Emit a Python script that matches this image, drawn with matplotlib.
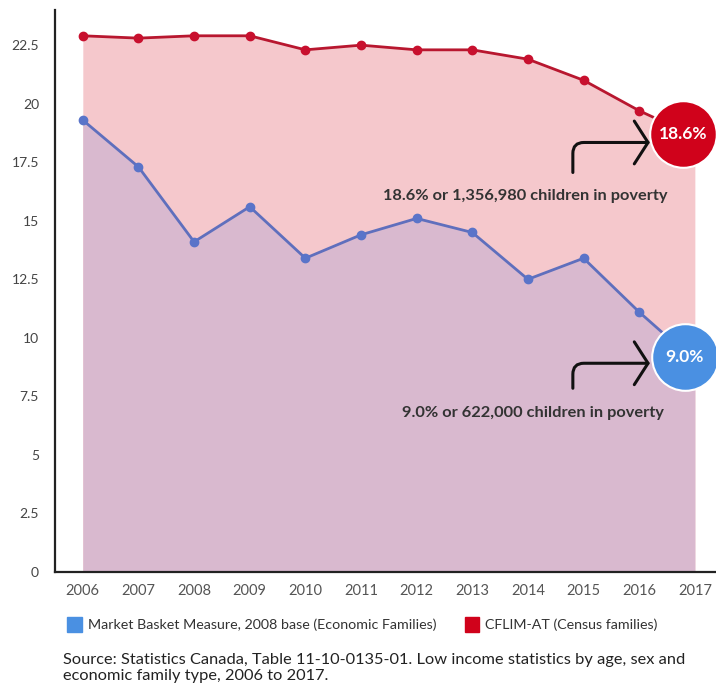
import matplotlib.pyplot as plt
from matplotlib.transforms import ScaledTranslation
from matplotlib.patches import Rectangle

# Child poverty rate (%) by year, two low income measures
years = [2006, 2007, 2008, 2009, 2010, 2011, 2012, 2013, 2014, 2015, 2016, 2017]
mbm = [19.3, 17.3, 14.1, 15.6, 13.4, 14.4, 15.1, 14.5, 12.5, 13.4, 11.1, 9.0]
cflim = [22.9, 22.8, 22.9, 22.9, 22.3, 22.5, 22.3, 22.3, 21.9, 21.0, 19.7, 18.6]

mbm_label = "Market Basket Measure, 2008 base (Economic Families)"
cflim_label = "CFLIM-AT (Census families)"
mbm_note = "9.0% or 622,000 children in poverty"
cflim_note = "18.6% or 1,356,980 children in poverty"
source = ("Source: Statistics Canada, Table 11-10-0135-01. Low income statistics by age, sex and\n"
          "economic family type, 2006 to 2017.")

yticks = [0, 2.5, 5, 7.5, 10, 12.5, 15, 17.5, 20, 22.5]

plt.rcParams['font.family'] = ['Lato', 'DejaVu Sans']

red_line = '#b8172f'
red_dot = '#c8102e'
red_fill = '#f5c8cc'
blue_line = '#5f6fbd'
blue_dot = '#5a74c9'
blue_fill = '#d9b9cf'
red_badge = '#d0021b'
blue_badge = '#4a90e2'
text_col = '#333333'

fig = plt.figure(figsize=(7.16, 6.87), dpi=100)
ax = fig.add_axes([0.0768, 0.1674, 0.9232, 0.818])

# stacked look: red area first, the MBM area painted over it
ax.fill_between(years, cflim, 0, color=red_fill, lw=0, zorder=1)
ax.fill_between(years, mbm, 0, color=blue_fill, lw=0, zorder=2)
ax.plot(years, cflim, color=red_line, lw=2, marker='o', ms=6,
        mfc=red_dot, mec=red_dot, zorder=4)
ax.plot(years, mbm, color=blue_line, lw=2, marker='o', ms=6,
        mfc=blue_dot, mec=blue_dot, zorder=4)

ax.set_xlim(2005.5, 2017.38)
ax.set_ylim(0, 24.0)
ax.set_xticks(years)
ax.set_xticklabels([str(y) for y in years])
ax.set_yticks(yticks)
ax.set_yticklabels([f"{t:g}" for t in yticks])
ax.tick_params(length=0)
ax.tick_params(axis='y', pad=11.5, labelsize=10, colors='#444444')
ax.tick_params(axis='x', pad=8.5, labelsize=10.5, colors='#555555')
for s in ['top', 'right']:
    ax.spines[s].set_visible(False)
for s in ['left', 'bottom']:
    ax.spines[s].set_color('#222222')
    ax.spines[s].set_linewidth(1.6)


def px(dx, dy):
    return ScaledTranslation(dx / 100, dy / 100, fig.dpi_scale_trans)


# badge, hooked arrow and note, all placed relative to the 2017 point
def callout(value, start, end, note, colour, badge_off, note_off):
    x = years[-1]
    ax.scatter([x], [value], s=2300, color=colour, edgecolor='white',
               linewidth=1.5, zorder=6, clip_on=False,
               transform=ax.transData + px(*badge_off))
    ax.text(x, value, f"{value:.1f}%", color='white', fontsize=12.5,
            fontweight='bold', ha='center', va='center', zorder=7,
            transform=ax.transData + px(*badge_off))
    ax.annotate("", xy=(x, value), xytext=(x, value),
                xycoords=ax.transData + px(*end),
                textcoords=ax.transData + px(*start),
                arrowprops=dict(arrowstyle='->,head_length=0.45,head_width=0.7',
                                connectionstyle='angle,angleA=90,angleB=0,rad=11',
                                color='#111111', lw=2.2, mutation_scale=22,
                                shrinkA=0, shrinkB=0),
                zorder=5)
    ax.text(x, value, note, color=text_col, fontsize=11.8, fontweight='bold',
            ha='center', va='center', zorder=5,
            transform=ax.transData + px(*note_off))


callout(cflim[-1], (-122, -36), (-45, -6), cflim_note, red_badge, (-12, 2), (-170, -60))
callout(mbm[-1], (-122, -27), (-45, -2), mbm_note, blue_badge, (-10, 4), (-162, -52))

# legend row
fig.patches.append(Rectangle((67 / 716, 1 - 632 / 687), 15 / 716, 15 / 687,
                             transform=fig.transFigure, color=blue_badge))
fig.text(88 / 716, 1 - 625 / 687, mbm_label, fontsize=10.3, color=text_col, va='center')
fig.patches.append(Rectangle((465 / 716, 1 - 632 / 687), 14 / 716, 15 / 687,
                             transform=fig.transFigure, color=red_badge))
fig.text(485 / 716, 1 - 625 / 687, cflim_label, fontsize=10.3, color=text_col, va='center')

fig.text(63 / 716, 1 - 668 / 687, source, fontsize=11.75, color='#222222',
         va='center', linespacing=1.1)

fig.savefig('out.png', dpi=100)
